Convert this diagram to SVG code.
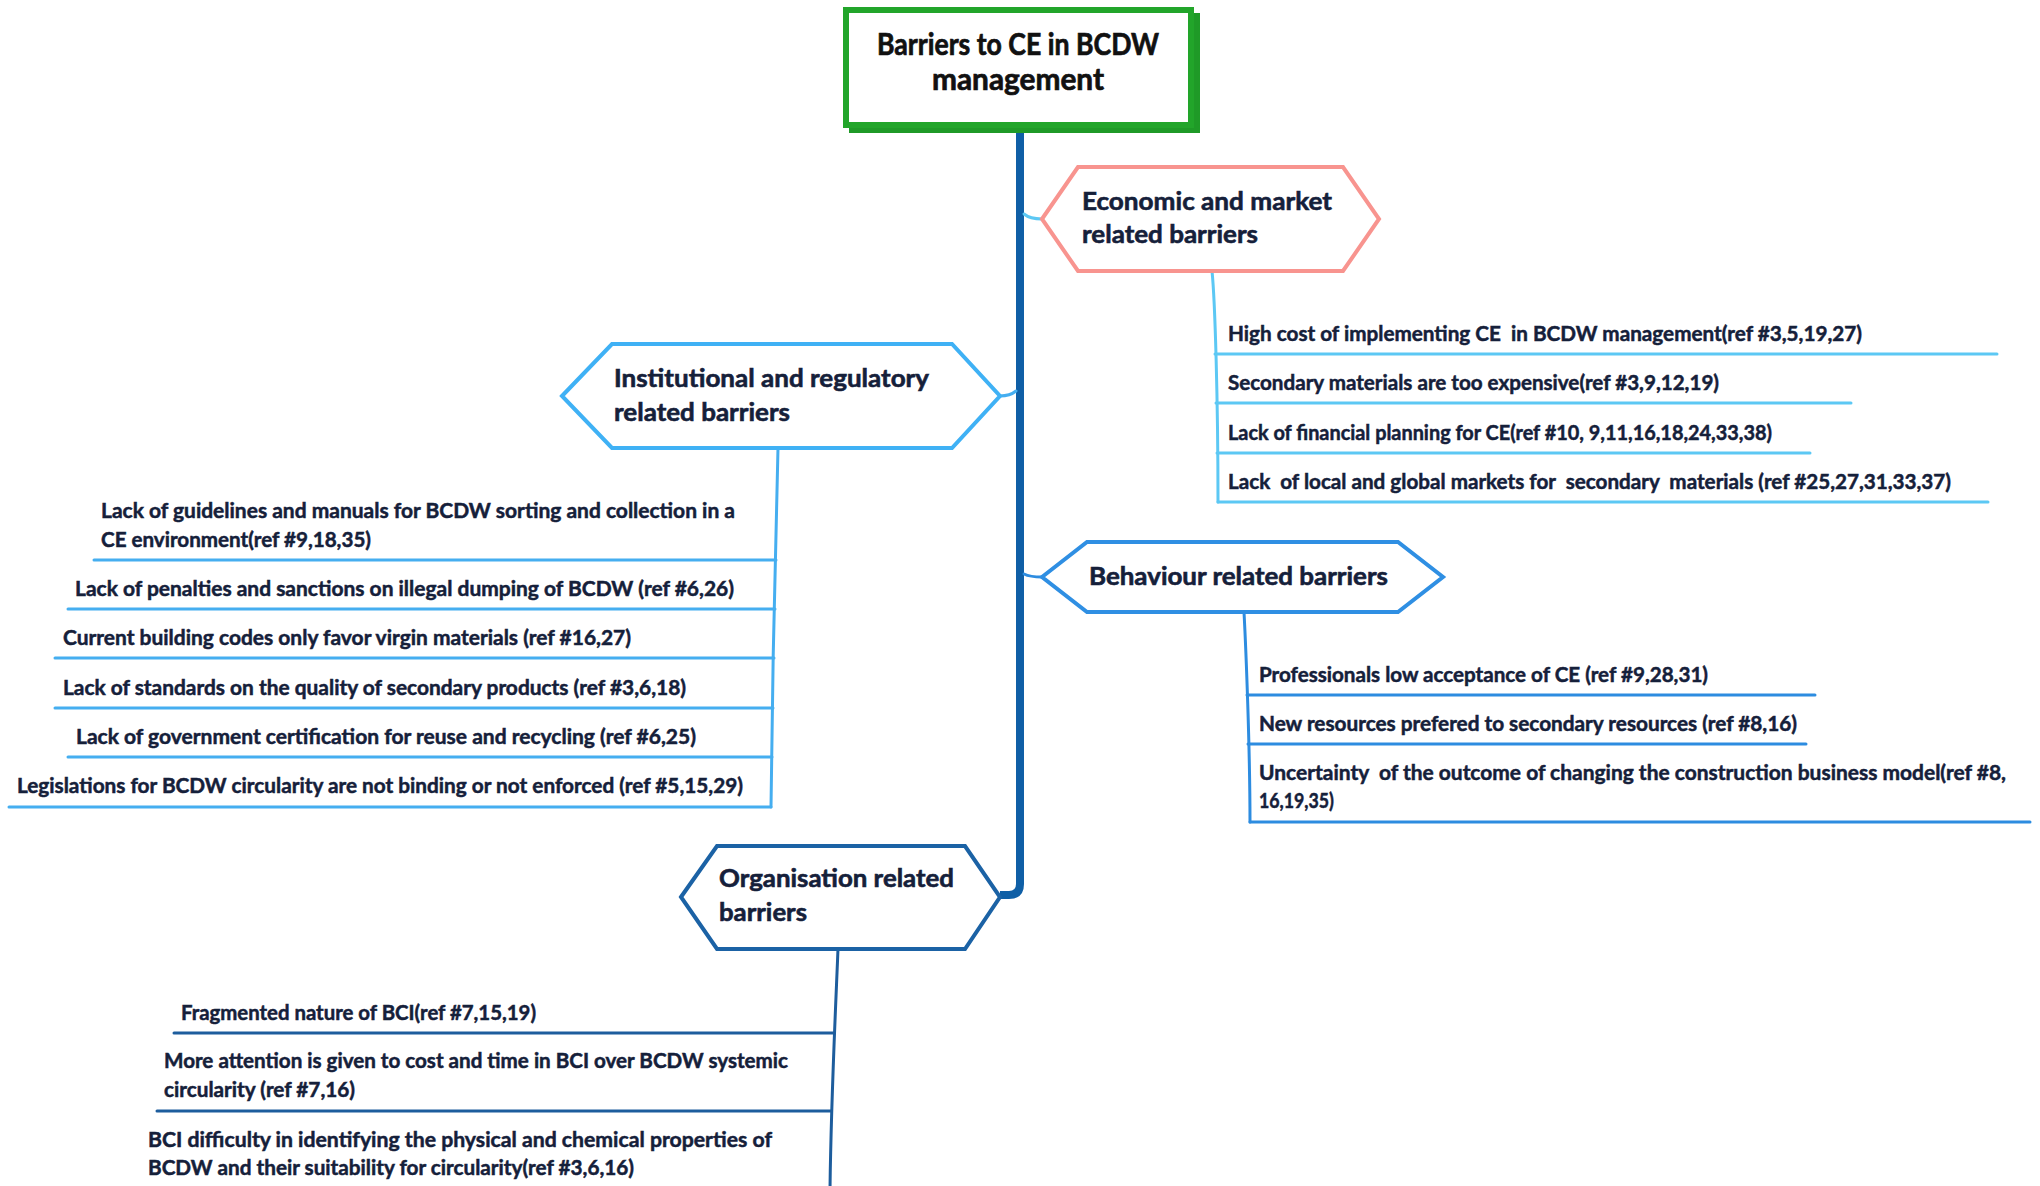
<svg xmlns="http://www.w3.org/2000/svg" width="2040" height="1186" viewBox="0 0 2040 1186">
<style>
text{font-family:Lato,"Open Sans","Liberation Sans",sans-serif;font-weight:700;fill:#15203a;stroke:#15203a;stroke-width:0.5;white-space:pre}
.title{font-size:30px;fill:#111111;stroke:#111111;stroke-width:0.7;text-anchor:middle}
.hd{font-size:25px;stroke-width:0.6}
.it{font-size:21px}
.hex{fill:#ffffff;stroke-width:4;stroke-linejoin:miter}
.br{fill:none;stroke-width:3;stroke-linecap:round}
.eco{stroke:#5cc8f4}
.ins{stroke:#45aef0}
.beh{stroke:#2d8ce0}
.org{stroke:#1d5d9d}
</style>
<rect width="2040" height="1186" fill="#ffffff"/>
<g id="connectors">
  <path d="M1020,128 V884 Q1020,895 1009,895 H1000" fill="none" stroke="#0f5fa6" stroke-width="8"/>
  <path class="br eco" d="M1024,214 Q1030,219 1042,219"/>
  <path class="br ins" d="M1000,396 Q1010,396 1016,391"/>
  <path class="br beh" d="M1024,574 Q1030,577 1042,577"/>
  <path class="br eco" d="M1212,271 C1215,300 1218,400 1218,502"/>
  <path class="br eco" d="M1215,354 H1997 M1216,403 H1851 M1217,453 H1810 M1218,502 H1988"/>
  <path class="br ins" d="M778,448 C776,500 772,700 771,807"/>
  <path class="br ins" d="M94,560 H776 M68,609 H775 M55,658 H774 M55,708 H773 M68,757 H772 M9,807 H771"/>
  <path class="br beh" d="M1244,612 C1246,650 1250,750 1250,822"/>
  <path class="br beh" d="M1247,695 H1815 M1248,744 H1806 M1250,822 H2030"/>
  <path class="br org" d="M838,949 C836,1000 831,1100 830,1190"/>
  <path class="br org" d="M174,1033 H833 M157,1111 H831"/>
</g>
<g id="root">
  <rect x="849" y="13" width="351" height="120" fill="#1f9a27"/>
  <rect x="846" y="10" width="345" height="115" fill="#ffffff" stroke="#22a52a" stroke-width="6"/>
  <text class="title" x="1018" y="55" textLength="282" lengthAdjust="spacingAndGlyphs">Barriers to CE in BCDW</text>
  <text class="title" x="1018" y="90" textLength="172" lengthAdjust="spacingAndGlyphs">management</text>
</g>
<g id="economic">
  <polygon class="hex" stroke="#f8948f" points="1042,219 1078,167 1343,167 1379,219 1343,271 1078,271"/>
  <text class="hd" x="1082" y="210" textLength="250" lengthAdjust="spacingAndGlyphs">Economic and market</text>
  <text class="hd" x="1082" y="243" textLength="176" lengthAdjust="spacingAndGlyphs">related barriers</text>
</g>
<g id="economic-items">
  <text class="it" x="1228" y="341" textLength="634" lengthAdjust="spacingAndGlyphs">High cost of implementing CE  in BCDW management(ref #3,5,19,27)</text>
  <text class="it" x="1228" y="390" textLength="491" lengthAdjust="spacingAndGlyphs">Secondary materials are too expensive(ref #3,9,12,19)</text>
  <text class="it" x="1228" y="440" textLength="544" lengthAdjust="spacingAndGlyphs">Lack of financial planning for CE(ref #10, 9,11,16,18,24,33,38)</text>
  <text class="it" x="1228" y="489" textLength="723" lengthAdjust="spacingAndGlyphs">Lack  of local and global markets for  secondary  materials (ref #25,27,31,33,37)</text>
</g>
<g id="institutional">
  <polygon class="hex" stroke="#3fb1f5" points="562,396 612,344 952,344 1000,396 952,448 612,448"/>
  <text class="hd" x="614" y="387" textLength="315" lengthAdjust="spacingAndGlyphs">Institutional and regulatory</text>
  <text class="hd" x="614" y="421" textLength="176" lengthAdjust="spacingAndGlyphs">related barriers</text>
</g>
<g id="institutional-items">
  <text class="it" x="101" y="518" textLength="634" lengthAdjust="spacingAndGlyphs">Lack of guidelines and manuals for BCDW sorting and collection in a</text>
  <text class="it" x="101" y="547" textLength="270" lengthAdjust="spacingAndGlyphs">CE environment(ref #9,18,35)</text>
  <text class="it" x="75" y="596" textLength="659" lengthAdjust="spacingAndGlyphs">Lack of penalties and sanctions on illegal dumping of BCDW (ref #6,26)</text>
  <text class="it" x="63" y="645" textLength="568" lengthAdjust="spacingAndGlyphs">Current building codes only favor virgin materials (ref #16,27)</text>
  <text class="it" x="63" y="695" textLength="623" lengthAdjust="spacingAndGlyphs">Lack of standards on the quality of secondary products (ref #3,6,18)</text>
  <text class="it" x="76" y="744" textLength="620" lengthAdjust="spacingAndGlyphs">Lack of government certification for reuse and recycling (ref #6,25)</text>
  <text class="it" x="17" y="793" textLength="726" lengthAdjust="spacingAndGlyphs">Legislations for BCDW circularity are not binding or not enforced (ref #5,15,29)</text>
</g>
<g id="behaviour">
  <polygon class="hex" stroke="#2f8fe3" points="1042,577 1087,542 1398,542 1443,577 1398,612 1087,612"/>
  <text class="hd" x="1089" y="585" textLength="299" lengthAdjust="spacingAndGlyphs">Behaviour related barriers</text>
</g>
<g id="behaviour-items">
  <text class="it" x="1259" y="682" textLength="449" lengthAdjust="spacingAndGlyphs">Professionals low acceptance of CE (ref #9,28,31)</text>
  <text class="it" x="1259" y="731" textLength="538" lengthAdjust="spacingAndGlyphs">New resources prefered to secondary resources (ref #8,16)</text>
  <text class="it" x="1259" y="780" textLength="747" lengthAdjust="spacingAndGlyphs">Uncertainty  of the outcome of changing the construction business model(ref #8,</text>
  <text class="it" x="1259" y="808" textLength="75" lengthAdjust="spacingAndGlyphs">16,19,35)</text>
</g>
<g id="organisation">
  <polygon class="hex" stroke="#1b62a5" points="681,897 717,846 965,846 1000,897 965,949 717,949"/>
  <text class="hd" x="719" y="887" textLength="235" lengthAdjust="spacingAndGlyphs">Organisation related</text>
  <text class="hd" x="719" y="921" textLength="88" lengthAdjust="spacingAndGlyphs">barriers</text>
</g>
<g id="organisation-items">
  <text class="it" x="181" y="1020" textLength="355" lengthAdjust="spacingAndGlyphs">Fragmented nature of BCI(ref #7,15,19)</text>
  <text class="it" x="164" y="1068" textLength="624" lengthAdjust="spacingAndGlyphs">More attention is given to cost and time in BCI over BCDW systemic</text>
  <text class="it" x="164" y="1097" textLength="191" lengthAdjust="spacingAndGlyphs">circularity (ref #7,16)</text>
  <text class="it" x="148" y="1147" textLength="624" lengthAdjust="spacingAndGlyphs">BCI difficulty in identifying the physical and chemical properties of</text>
  <text class="it" x="148" y="1175" textLength="486" lengthAdjust="spacingAndGlyphs">BCDW and their suitability for circularity(ref #3,6,16)</text>
</g>
</svg>
